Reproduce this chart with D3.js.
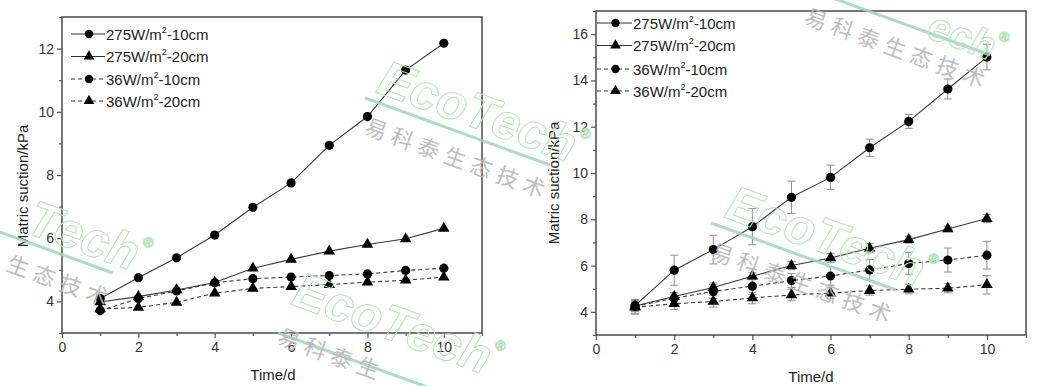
<!DOCTYPE html>
<html>
<head>
<meta charset="utf-8">
<script src="https://cdn.jsdelivr.net/npm/d3@7"></script>
<style>
  html, body { margin: 0; padding: 0; background: #fff; }
  svg { display: block; }
  text { font-family: "Liberation Sans", Arial, sans-serif; }
</style>
</head>
<body>
<svg id="chart" width="1038" height="386"></svg>
<script>
// ---------------- DATA ----------------
const days = [1, 2, 3, 4, 5, 6, 7, 8, 9, 10];

const legendMain = ["275W/m", "275W/m", "36W/m", "36W/m"];
const legendTail = ["-10cm", "-20cm", "-10cm", "-20cm"];

// Left panel (no error bars)
const left275_10 = [4.09, 4.75, 5.38, 6.10, 6.98, 7.75, 8.94, 9.85, 11.32, 12.17];
const left275_20 = [3.98, 4.15, 4.36, 4.60, 5.05, 5.33, 5.59, 5.80, 5.98, 6.31];
const left36_10  = [3.71, 4.09, 4.33, 4.59, 4.72, 4.77, 4.82, 4.87, 4.98, 5.05];
const left36_20  = [3.76, 3.81, 3.97, 4.26, 4.41, 4.47, 4.53, 4.61, 4.67, 4.77];

// Right panel (with error bars)
const right275_10 = [4.27, 5.80, 6.69, 7.68, 8.95, 9.81, 11.09, 12.23, 13.63, 15.01];
const right275_10Err = [0.25, 0.65, 0.62, 0.78, 0.70, 0.53, 0.37, 0.30, 0.43, 0.55];
const right275_20 = [4.25, 4.66, 5.05, 5.54, 6.00, 6.33, 6.75, 7.12, 7.58, 8.03];
const right275_20Err = [0.20, 0.15, 0.20, 0.15, 0.17, 0.20, 0.20, 0.15, 0.12, 0.18];
const right36_10  = [4.24, 4.59, 4.88, 5.11, 5.35, 5.55, 5.81, 6.09, 6.24, 6.45];
const right36_10Err = [0.30, 0.25, 0.30, 0.35, 0.30, 0.40, 0.45, 0.47, 0.52, 0.60];
const right36_20  = [4.20, 4.35, 4.45, 4.60, 4.73, 4.81, 4.92, 4.98, 5.02, 5.17];
const right36_20Err = [0.30, 0.25, 0.25, 0.25, 0.25, 0.25, 0.20, 0.20, 0.20, 0.40];

const xTicks = [0, 2, 4, 6, 8, 10];
const xMinor = [1, 3, 5, 7, 9, 11];
const leftYTicks = [4, 6, 8, 10, 12];
const leftYMinor = [3, 5, 7, 9, 11, 13];
const rightYTicks = [4, 6, 8, 10, 12, 14, 16];
const rightYMinor = [3, 5, 7, 9, 11, 13, 15, 17];

const yTitle = "Matric suction/kPa";
const xTitle = "Time/d";
// watermark texts (visible parts as in the reference)
const wmLatin = ["EcoTech", "Tech", "EcoTech", "ech", "EcoTech"];
const wmChinese = ["易科泰生态技术", "生态技术", "易科泰生", "易科泰生态技术", "易科泰生态技术"];

// ---------------- DRAWING ----------------
const svg = d3.select("#chart");
const shapes = ["circle", "triangle", "circle", "triangle"];
const dashed = [false, false, true, true];

function drawPanel(p) {
  const x = d3.scaleLinear().domain([0, 11]).range([p.x0, p.x1]);
  const y = d3.scaleLinear().domain(p.yDomain).range([p.y0, p.y1]);
  const g = svg.append("g");

  const axisFont = (sel) => sel.selectAll("text")
      .attr("fill", "#333").style("font-size", "14px")
      .style("font-family", "'Liberation Sans', Arial, sans-serif");
  const styleTicks = (sel) => { sel.select(".domain").remove(); sel.selectAll("line").attr("stroke", "#555").attr("stroke-width", 1.2); };

  g.append("g").attr("transform", `translate(0,${p.y0})`)
    .call(d3.axisBottom(x).tickValues(xTicks).tickSize(5).tickPadding(4).tickFormat(d3.format("d")))
    .call(styleTicks).call(axisFont);
  g.append("g").attr("transform", `translate(0,${p.y0})`)
    .call(d3.axisBottom(x).tickValues(xMinor).tickSize(3).tickFormat(""))
    .call(styleTicks);
  g.append("g").attr("transform", `translate(${p.x0},0)`)
    .call(d3.axisLeft(y).tickValues(p.yTicks).tickSize(5).tickPadding(3).tickFormat(d3.format("d")))
    .call(styleTicks).call(axisFont);
  g.append("g").attr("transform", `translate(${p.x0},0)`)
    .call(d3.axisLeft(y).tickValues(p.yMinor).tickSize(3).tickFormat(""))
    .call(styleTicks);

  g.append("rect").attr("x", p.x0).attr("y", p.y1)
    .attr("width", p.x1 - p.x0).attr("height", p.y0 - p.y1)
    .attr("fill", "none").attr("stroke", "#555").attr("stroke-width", 1.6);

  g.append("text").attr("transform", `translate(${p.yTitleX},${p.yTitleY}) rotate(-90)`)
    .attr("text-anchor", "middle").attr("dominant-baseline", "middle")
    .attr("fill", "#222").style("font-size", "15px").text(yTitle);
  g.append("text").attr("x", p.xTitleX).attr("y", p.xTitleY)
    .attr("text-anchor", "middle").attr("fill", "#222").style("font-size", "15px").text(xTitle);

  const line = d3.line().x((d) => x(d[0])).y((d) => y(d[1]));
  const tri = d3.symbol().type(d3.symbolTriangle).size(58);

  p.series.forEach((s, i) => {
    if (!p.errors) return;
    const e = p.errors[i];
    const eg = g.append("g").attr("stroke", "#8f8f8f").attr("stroke-width", 1);
    days.forEach((d, j) => {
      const cx = x(d);
      eg.append("line").attr("x1", cx).attr("x2", cx).attr("y1", y(s[j] - e[j])).attr("y2", y(s[j] + e[j]));
      eg.append("line").attr("x1", cx - 4).attr("x2", cx + 4).attr("y1", y(s[j] - e[j])).attr("y2", y(s[j] - e[j]));
      eg.append("line").attr("x1", cx - 4).attr("x2", cx + 4).attr("y1", y(s[j] + e[j])).attr("y2", y(s[j] + e[j]));
    });
  });

  p.series.forEach((s, i) => {
    const pts = days.map((d, j) => [d, s[j]]);
    g.append("path").attr("d", line(pts)).attr("fill", "none")
      .attr("stroke", "#383838").attr("stroke-width", 1.1)
      .attr("stroke-dasharray", dashed[i] ? "4,3" : null);
    pts.forEach((pt) => {
      if (shapes[i] === "circle") {
        g.append("circle").attr("cx", x(pt[0])).attr("cy", y(pt[1])).attr("r", 4.6).attr("fill", "#000");
      } else {
        g.append("path").attr("d", tri).attr("transform", `translate(${x(pt[0])},${y(pt[1])})`).attr("fill", "#000");
      }
    });
  });

  p.legendY.forEach((ly, i) => {
    const lg = g.append("g");
    lg.append("line").attr("x1", p.legX0).attr("x2", p.legX1).attr("y1", ly).attr("y2", ly)
      .attr("stroke", "#333").attr("stroke-width", 1.1)
      .attr("stroke-dasharray", dashed[i] ? "4,3" : null);
    const mx = (p.legX0 + p.legX1) / 2 + 1;
    if (shapes[i] === "circle") lg.append("circle").attr("cx", mx).attr("cy", ly).attr("r", 4.2).attr("fill", "#000");
    else lg.append("path").attr("d", d3.symbol().type(d3.symbolTriangle).size(50)).attr("transform", `translate(${mx},${ly})`).attr("fill", "#000");
    const t = lg.append("text").attr("x", p.legX1 + 1).attr("y", ly + 5.5).attr("fill", "#222").style("font-size", "15px");
    t.append("tspan").text(dashed[i] ? " " + legendMain[i] : legendMain[i]);
    t.append("tspan").attr("dy", -7).style("font-size", "9px").text("2");
    t.append("tspan").attr("dy", 7).text(legendTail[i]);
  });
}

drawPanel({
  x0: 62, x1: 482, y0: 333, y1: 17, yDomain: [3, 13],
  yTicks: leftYTicks, yMinor: leftYMinor,
  series: [left275_10, left275_20, left36_10, left36_20], errors: null,
  yTitleX: 24, yTitleY: 186, xTitleX: 273, xTitleY: 380,
  legX0: 71, legX1: 105, legendY: [34, 56.5, 79, 101]
});

drawPanel({
  x0: 596, x1: 1026, y0: 335, y1: 11, yDomain: [3, 17],
  yTicks: rightYTicks, yMinor: rightYMinor,
  series: [right275_10, right275_20, right36_10, right36_20],
  errors: [right275_10Err, right275_20Err, right36_10Err, right36_20Err],
  yTitleX: 555, yTitleY: 183, xTitleX: 811, xTitleY: 382,
  legX0: 597, legX1: 632, legendY: [23, 45.5, 69, 91]
});

// ---------------- WATERMARKS ----------------
const wmSpecs = [
  { line: [365, 98, 550, 165], lat: [375, 92, 50], zh: [363, 133] },
  { line: [-72, 206, 113, 273], lat: [24, 232, 50], zh: [5, 270] },
  { line: [278, 333, 463, 400], lat: [290, 304, 50], zh: [276, 343] },
  { line: [805, -12, 990, 55], lat: [925, 37, 40], zh: [803, 23] },
  { line: [711, 223, 896, 290], lat: [723, 217, 50], zh: [709, 258] }
];
const wm = svg.append("g").attr("pointer-events", "none");
wmSpecs.forEach((s, i) => {
  wm.append("line").attr("x1", s.line[0]).attr("y1", s.line[1]).attr("x2", s.line[2]).attr("y2", s.line[3])
    .attr("stroke", "#9fd6bb").attr("stroke-width", 3).attr("opacity", 0.85);
  const t = wm.append("text").attr("transform", `translate(${s.lat[0]},${s.lat[1]}) rotate(20)`)
    .style("font-size", s.lat[2] + "px").style("font-weight", "bold").style("font-style", "italic")
    .attr("fill", "none").attr("stroke", "#b4e6b4").attr("stroke-width", 1);
  t.append("tspan").text(wmLatin[i]);
  t.append("tspan").attr("dy", -s.lat[2] * 0.56).style("font-size", "14px").style("font-weight", "normal").text("®");
  wm.append("text").attr("transform", `translate(${s.zh[0]},${s.zh[1]}) rotate(20)`)
    .style("font-family", "'Noto Sans CJK SC', sans-serif").style("font-size", "22px")
    .style("letter-spacing", "6px").attr("fill", "#b8b8b8").attr("opacity", 0.9).text(wmChinese[i]);
});
</script>
</body>
</html>
